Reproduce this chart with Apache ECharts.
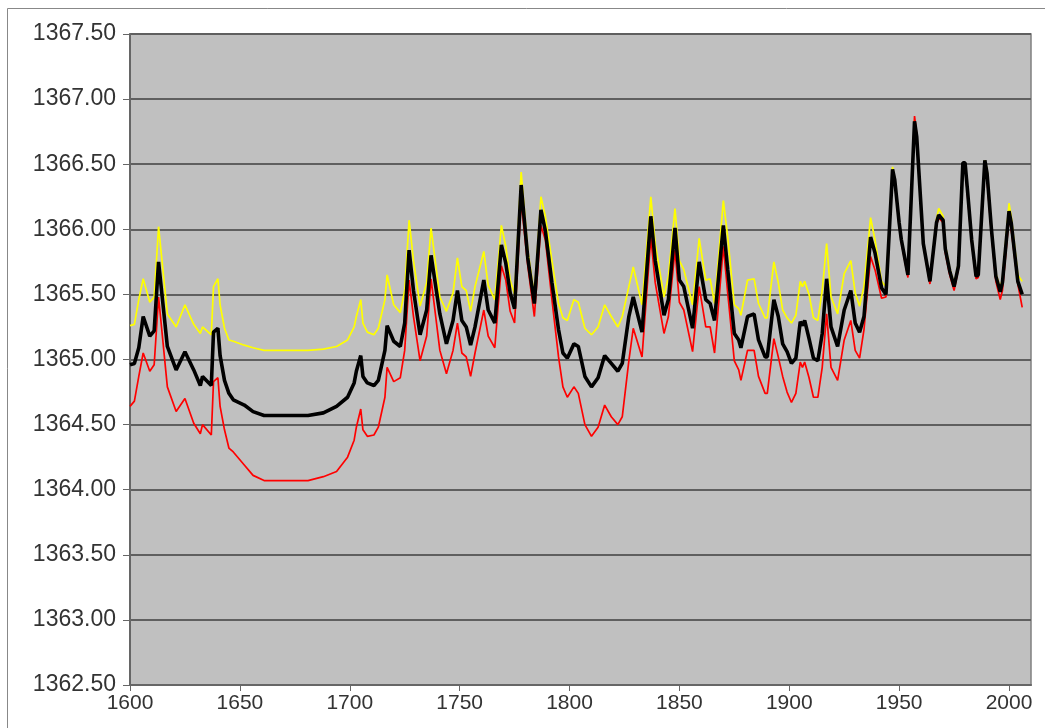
<!DOCTYPE html>
<html>
<head>
<meta charset="utf-8">
<script src="https://cdn.jsdelivr.net/npm/echarts@6/dist/echarts.min.js"></script>
<style>
  html, body { margin: 0; padding: 0; background: #fff; }
  #chart { width: 1045px; height: 728px; }
</style>
</head>
<body>
<div id="chart"></div>
<script>
// years, values (W/m2)
const years = [
  1600, 1602, 1604, 1606, 1609, 1611, 1613, 1617, 1621, 1625, 1629, 1632, 1633, 1637, 1638, 1640,
  1641, 1643, 1645, 1647, 1652, 1656, 1661, 1666, 1673, 1681, 1688, 1694, 1699, 1702, 1703, 1705,
  1706, 1708, 1711, 1713, 1716, 1717, 1720, 1723, 1725, 1727, 1729, 1732, 1735, 1737, 1741, 1744,
  1747, 1749, 1751, 1753, 1755, 1757, 1761, 1763, 1766, 1769, 1771, 1773, 1775, 1778, 1781, 1784,
  1787, 1789, 1792, 1795, 1797, 1799, 1802, 1804, 1807, 1810, 1813, 1816, 1819, 1822, 1824, 1827,
  1829, 1833, 1837, 1839, 1843, 1845, 1848, 1850, 1852, 1856, 1859, 1862, 1864, 1866, 1870, 1872,
  1875, 1877, 1878, 1881, 1884, 1886, 1889, 1890, 1893, 1895, 1897, 1899, 1901, 1903, 1905, 1906,
  1907, 1909, 1911, 1913, 1915, 1917, 1919, 1922, 1925, 1928, 1930, 1932, 1934, 1937, 1939, 1942,
  1944, 1947, 1948, 1950, 1951, 1954, 1957, 1958, 1961, 1964, 1967, 1968, 1970, 1971, 1973, 1975,
  1977, 1979, 1980, 1981, 1983, 1985, 1986, 1989, 1990, 1992, 1994, 1996, 1997, 2000, 2001, 2004,
  2006
];

const meanTsi = [
  1364.96, 1364.97, 1365.09, 1365.33, 1365.18, 1365.22, 1365.75, 1365.10, 1364.92, 1365.06, 1364.92, 1364.80, 1364.87, 1364.80, 1365.21, 1365.24,
  1365.03, 1364.84, 1364.74, 1364.69, 1364.65, 1364.60, 1364.57, 1364.57, 1364.57, 1364.57, 1364.59, 1364.64, 1364.71, 1364.82, 1364.91, 1365.03,
  1364.87, 1364.82, 1364.80, 1364.84, 1365.07, 1365.26, 1365.14, 1365.10, 1365.28, 1365.84, 1365.53, 1365.19, 1365.38, 1365.80, 1365.35, 1365.12,
  1365.30, 1365.53, 1365.30, 1365.25, 1365.11, 1365.25, 1365.61, 1365.38, 1365.28, 1365.88, 1365.74, 1365.51, 1365.39, 1366.34, 1365.78, 1365.43,
  1366.15, 1365.99, 1365.59, 1365.23, 1365.05, 1365.01, 1365.12, 1365.10, 1364.87, 1364.79, 1364.86, 1365.03, 1364.97, 1364.91, 1364.97, 1365.33,
  1365.48, 1365.21, 1366.10, 1365.76, 1365.34, 1365.46, 1366.01, 1365.61, 1365.56, 1365.24, 1365.75, 1365.46, 1365.43, 1365.30, 1366.03, 1365.69,
  1365.20, 1365.15, 1365.09, 1365.33, 1365.35, 1365.15, 1365.02, 1365.02, 1365.46, 1365.33, 1365.12, 1365.06, 1364.97, 1365.01, 1365.29, 1365.26,
  1365.30, 1365.16, 1365.01, 1364.99, 1365.20, 1365.62, 1365.25, 1365.10, 1365.38, 1365.53, 1365.28, 1365.21, 1365.33, 1365.94, 1365.82, 1365.55,
  1365.50, 1366.46, 1366.38, 1366.05, 1365.92, 1365.65, 1366.83, 1366.71, 1365.89, 1365.60, 1366.05, 1366.11, 1366.07, 1365.85, 1365.68, 1365.56,
  1365.72, 1366.51, 1366.51, 1366.32, 1365.92, 1365.64, 1365.65, 1366.53, 1366.43, 1366.00, 1365.64, 1365.52, 1365.59, 1366.14, 1366.05, 1365.60,
  1365.50
];

const upperTsi = [
  1365.26, 1365.27, 1365.46, 1365.62, 1365.44, 1365.48, 1366.02, 1365.35, 1365.25, 1365.42, 1365.27, 1365.20, 1365.25, 1365.19, 1365.56, 1365.62,
  1365.42, 1365.24, 1365.15, 1365.14, 1365.11, 1365.09, 1365.07, 1365.07, 1365.07, 1365.07, 1365.08, 1365.10, 1365.15, 1365.25, 1365.33, 1365.46,
  1365.28, 1365.21, 1365.19, 1365.24, 1365.46, 1365.65, 1365.42, 1365.36, 1365.53, 1366.07, 1365.76, 1365.41, 1365.59, 1366.01, 1365.48, 1365.37,
  1365.51, 1365.78, 1365.56, 1365.53, 1365.37, 1365.56, 1365.83, 1365.57, 1365.46, 1366.03, 1365.87, 1365.61, 1365.50, 1366.44, 1365.84, 1365.49,
  1366.25, 1366.10, 1365.76, 1365.43, 1365.32, 1365.30, 1365.46, 1365.44, 1365.24, 1365.19, 1365.25, 1365.42, 1365.33, 1365.25, 1365.33, 1365.56,
  1365.71, 1365.42, 1366.25, 1365.89, 1365.48, 1365.64, 1366.16, 1365.76, 1365.69, 1365.42, 1365.93, 1365.61, 1365.62, 1365.43, 1366.22, 1365.94,
  1365.42, 1365.39, 1365.34, 1365.61, 1365.62, 1365.43, 1365.32, 1365.32, 1365.75, 1365.59, 1365.38, 1365.32, 1365.28, 1365.34, 1365.60, 1365.56,
  1365.60, 1365.50, 1365.32, 1365.30, 1365.53, 1365.89, 1365.48, 1365.35, 1365.66, 1365.76, 1365.51, 1365.41, 1365.56, 1366.09, 1365.92, 1365.60,
  1365.56, 1366.48, 1366.39, 1366.06, 1365.93, 1365.66, 1366.84, 1366.70, 1365.90, 1365.61, 1366.08, 1366.16, 1366.10, 1365.88, 1365.70, 1365.58,
  1365.74, 1366.51, 1366.51, 1366.33, 1365.94, 1365.66, 1365.67, 1366.53, 1366.46, 1366.02, 1365.66, 1365.55, 1365.62, 1366.20, 1366.10, 1365.65,
  1365.60
];

const lowerTsi = [
  1364.64, 1364.68, 1364.87, 1365.05, 1364.91, 1364.96, 1365.48, 1364.79, 1364.60, 1364.70, 1364.51, 1364.43, 1364.50, 1364.42, 1364.83, 1364.86,
  1364.64, 1364.46, 1364.32, 1364.29, 1364.19, 1364.11, 1364.07, 1364.07, 1364.07, 1364.07, 1364.10, 1364.14, 1364.25, 1364.38, 1364.48, 1364.62,
  1364.46, 1364.41, 1364.42, 1364.48, 1364.71, 1364.94, 1364.83, 1364.86, 1365.07, 1365.61, 1365.33, 1364.99, 1365.18, 1365.62, 1365.07, 1364.89,
  1365.07, 1365.28, 1365.05, 1365.02, 1364.87, 1365.05, 1365.38, 1365.18, 1365.09, 1365.72, 1365.61, 1365.37, 1365.28, 1366.22, 1365.72, 1365.33,
  1366.03, 1365.92, 1365.46, 1365.02, 1364.79, 1364.71, 1364.79, 1364.74, 1364.50, 1364.41, 1364.48, 1364.65, 1364.56, 1364.50, 1364.56, 1364.99,
  1365.24, 1365.02, 1365.94, 1365.59, 1365.20, 1365.33, 1365.84, 1365.44, 1365.38, 1365.06, 1365.56, 1365.25, 1365.25, 1365.05, 1365.87, 1365.51,
  1364.99, 1364.92, 1364.84, 1365.07, 1365.07, 1364.87, 1364.74, 1364.74, 1365.16, 1365.02, 1364.87, 1364.75, 1364.67, 1364.74, 1364.98, 1364.94,
  1364.98, 1364.86, 1364.71, 1364.71, 1364.94, 1365.35, 1364.94, 1364.84, 1365.15, 1365.30, 1365.07, 1365.01, 1365.23, 1365.79, 1365.69, 1365.47,
  1365.48, 1366.44, 1366.36, 1366.03, 1365.90, 1365.63, 1366.87, 1366.73, 1365.88, 1365.58, 1366.03, 1366.09, 1366.05, 1365.82, 1365.65, 1365.53,
  1365.70, 1366.50, 1366.50, 1366.28, 1365.90, 1365.62, 1365.63, 1366.52, 1366.38, 1365.97, 1365.60, 1365.46, 1365.53, 1366.09, 1366.00, 1365.58,
  1365.40
];

const xTicks = [1600, 1650, 1700, 1750, 1800, 1850, 1900, 1950, 2000];

const pairs = vals => years.map((y, i) => [y, vals[i]]);

const chart = echarts.init(document.getElementById('chart'));
const fontFamily = 'Liberation Sans, Arial, sans-serif';

const option = {
    animation: false,
    backgroundColor: '#fff',
    graphic: [{
        type: 'rect',
        shape: { x: 7.5, y: 8.5, width: 1060, height: 760 },
        style: { fill: 'none', stroke: '#888', lineWidth: 1 },
        silent: true,
        z: -1
    }],
    grid: {
        left: 130,
        top: 34,
        right: 14,
        bottom: 43,
        show: true,
        backgroundColor: '#c0c0c0',
        borderColor: '#808080',
        borderWidth: 1.5
    },
    xAxis: {
        type: 'value',
        min: 1600,
        max: 2010,
        interval: 50,
        axisLine: { onZero: false, lineStyle: { color: '#666', width: 2 } },
        axisTick: {
            show: true,
            length: 6,
            customValues: xTicks,
            lineStyle: { color: '#666', width: 1 }
        },
        axisLabel: {
            fontFamily,
            fontSize: 21,
            color: '#333',
            margin: 8,
            customValues: xTicks,
            formatter: v => String(v)
        },
        splitLine: { show: false }
    },
    yAxis: {
        type: 'value',
        min: 1362.5,
        max: 1367.5,
        interval: 0.5,
        axisLine: { show: true, lineStyle: { color: '#666', width: 2 } },
        axisTick: { show: true, length: 7, lineStyle: { color: '#666', width: 1 } },
        axisLabel: {
            fontFamily,
            fontSize: 23,
            color: '#333',
            margin: 14,
            formatter: v => v.toFixed(2)
        },
        splitLine: { show: true, lineStyle: { color: '#5f5f5f', width: 2 } }
    },
    series: [
        {
            name: 'upper',
            type: 'line',
            data: pairs(upperTsi),
            showSymbol: false,
            lineStyle: { color: '#ffff00', width: 1.7 },
            z: 2
        },
        {
            name: 'lower',
            type: 'line',
            data: pairs(lowerTsi),
            showSymbol: false,
            lineStyle: { color: '#ff0000', width: 1.7 },
            z: 3
        },
        {
            name: 'mean',
            type: 'line',
            data: pairs(meanTsi),
            showSymbol: false,
            lineStyle: { color: '#000000', width: 3.6 },
            z: 4
        }
    ]
};
chart.setOption(option);
</script>
</body>
</html>
